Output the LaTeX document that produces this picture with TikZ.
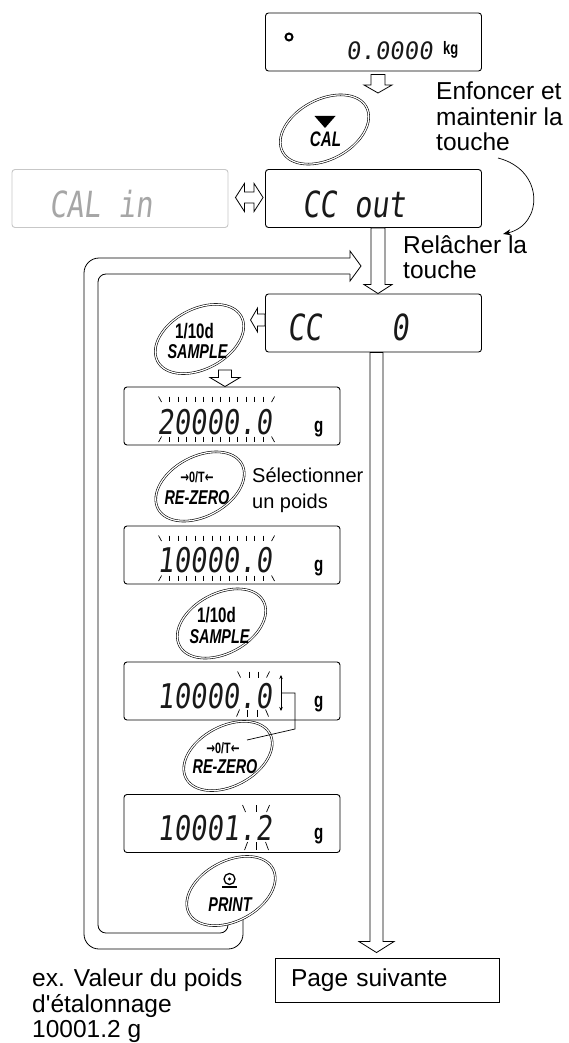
\documentclass[tikz,border=0pt]{standalone}
\usepackage{fontspec}
\setmainfont{Liberation Sans}
\newfontfamily\lcd[FakeSlant=0.12,FakeStretch=0.8]{DejaVu Sans Mono}
\newfontfamily\lcdw[FakeSlant=0.12]{DejaVu Sans Mono}
\newfontfamily\btn[FakeStretch=0.72]{Liberation Sans}
\newfontfamily\arr[FakeStretch=0.7]{DejaVu Sans}
\usetikzlibrary{shapes.geometric,calc,arrows.meta}
\newcommand\hdown[5]{\draw[hollow] let \p1=#1, \p2=#2 in
  (\x1-#3pt,\y1) -- (\x1-#3pt,\y2+#5pt) -- (\x1-#4pt,\y2+#5pt) -- (\x1,\y2) --
  (\x1+#4pt,\y2+#5pt) -- (\x1+#3pt,\y2+#5pt) -- (\x1+#3pt,\y1) -- cycle;}
\newcommand\hleft[5]{\draw[hollow] let \p1=#1, \p2=#2 in
  (\x1,\y1+#3pt) -- (\x2+#5pt,\y1+#3pt) -- (\x2+#5pt,\y1+#4pt) -- (\x2,\y1) --
  (\x2+#5pt,\y1-#4pt) -- (\x2+#5pt,\y1-#3pt) -- (\x1,\y1-#3pt) -- cycle;}
\newcommand\hboth[5]{\draw[hollow] let \p1=#1, \p2=#2 in
  (\x1,\y1) -- (\x1+#5pt,\y1+#4pt) -- (\x1+#5pt,\y1+#3pt) -- (\x2-#5pt,\y1+#3pt) --
  (\x2-#5pt,\y1+#4pt) -- (\x2,\y1) -- (\x2-#5pt,\y1-#4pt) -- (\x2-#5pt,\y1-#3pt) --
  (\x1+#5pt,\y1-#3pt) -- (\x1+#5pt,\y1-#4pt) -- cycle;}
\newcommand\blinkfull[1]{%
  \begin{scope}[shift={(#1.north west)}]
    \draw[tick] (35,10) -- (38,15.5);
    \foreach \i in {0,...,11} \draw[tick] ({46+\i*8.5},10) -- ++(0,5.5);
    \draw[tick] (151,10) -- (148,15.5);
    \draw[tick] (35,55.5) -- (38,50);
    \foreach \i in {0,...,11} \draw[tick] ({46+\i*8.5},50) -- ++(0,5.5);
    \draw[tick] (151,55.5) -- (148,50);
  \end{scope}}
\begin{document}
\begin{tikzpicture}[x=1pt,y=-1pt,
  disp/.style={draw, rounded corners=3pt, line width=0.9pt, minimum width=216pt, minimum height=58pt, inner sep=0pt},
  button/.style={ellipse, draw, double, double distance=1.2pt, line width=0.6pt, fill=white, rotate=28, minimum width=95pt, minimum height=60pt, inner sep=0pt},
  hollow/.style={draw, line width=0.8pt, fill=white, line join=miter},
  lcdtxt/.style={inner sep=0pt, text=black!90, font=\lcd\fontsize{34}{34}\selectfont},
  lcdbig/.style={inner sep=0pt, text=black!90, font=\lcd\fontsize{36}{36}\selectfont},
  unit/.style={inner sep=0pt, font=\btn\bfseries\fontsize{21}{21}\selectfont},
  bt/.style={inner sep=0pt, font=\btn\bfseries\itshape\fontsize{20}{20}\selectfont},
  bu/.style={inner sep=0pt, font=\btn\bfseries\fontsize{21}{21}\selectfont},
  bz/.style={inner sep=0pt, font=\btn\bfseries\fontsize{15}{15}\selectfont},
  note/.style={inner sep=0pt, anchor=north west, align=left, font=\fontsize{24.5}{25.5}\selectfont},
  tick/.style={line width=0.7pt},
  loopline/.style={line width=0.8pt},
]
\useasboundingbox (0,0) rectangle (568,1043);

% ---------- top display ----------
\node[disp] (top) at (373.5,42) {};
\node[draw, circle, line width=2pt, inner sep=0pt, minimum size=7pt] (dot) at (289,37) {};
\node[anchor=base east, inner sep=0pt, text=black!90, font=\lcdw\fontsize{24}{24}\selectfont] (topnum) at (433,60) {0.0000};
\node[unit, anchor=base west, font=\btn\bfseries\fontsize{18}{18}\selectfont] (kg) at (443,55) {kg};

% ---------- CAL button ----------
\node[button] (cal) at (324.5,129.5) {};
\fill ($(cal.center)+(-10,-13.5)$) -- ++(21,0) -- ++(-10.5,12) -- cycle;
\node[bt, font=\btn\bfseries\itshape\fontsize{21}{21}\selectfont] (calt) at ($(cal.center)+(1,10)$) {CAL};
\hdown{($(top.south)+(4.5,3)$)}{($(cal.center)+(53.5,-36.5)$)}{7}{14}{8}

\node[note] (t1) at (436,82) {Enfoncer et\\maintenir la\\touche};

% ---------- CC out / CAL in ----------
\node[disp] (ccout) at (373.5,198.5) {};
\node[lcdbig, anchor=base west] (ccoutt) at (302,217) {CC out};
\node[disp, draw=black!22] (calin) at (120,198.5) {};
\node[lcdbig, anchor=base west, text=black!35] (calint) at (49,217) {CAL in};
\hboth{($(calin.east)+(7,-1)$)}{($(ccout.west)+(-2,-1)$)}{5.5}{14}{9}

\coordinate (c1) at (498,158);
\coordinate (c2) at (503,234);
\draw[line width=0.7pt, -{Stealth[length=8pt,width=6pt]}] (c1) .. controls (545,170) and (543,225) .. (c2);
\node[note] (t2) at (403,235) {Relâcher la\\touche};

% ---------- CC 0 ----------
\node[disp] (cc0) at (373.5,323) {};
\node[lcdbig, anchor=base west] (cc0t) at (287,340) {CC\ \ \ \ 0};
\hdown{($(ccout.south)+(4.5,0)$)}{($(cc0.north)+(4.5,0)$)}{7}{14}{9}

% ---------- return loop ----------
\coordinate (loopend) at (361,266);
\draw[loopline, rounded corners=15pt] (243,905) -- (243,949) -- (84,949) -- (84,258) -- (350,258);
\draw[loopline] (350,258) -- (350,251) -- (loopend) -- (350,281) -- (350,274);
\draw[loopline, rounded corners=8pt] (350,274) -- (98,274) -- (98,933) -- (228,933) -- (228,905);

% ---------- next page ----------
\node[draw, line width=0.9pt, minimum width=224pt, minimum height=44pt, inner xsep=16pt, inner ysep=0pt, text width=192pt, align=left, font=\fontsize{24.5}{25.5}\selectfont] (page) at (387,980) {Page suivante};
\hdown{($(cc0.south)+(3,0)$)}{($(page.north)+(-10.5,-5)$)}{6.5}{17.5}{11}

% ---------- SAMPLE 1 ----------
\node[button] (s1) at (199.5,339) {};
\node[bu] (s1a) at ($(s1.center)+(-5,-8)$) {1/10d};
\node[bt] (s1b) at ($(s1.center)+(-2,13)$) {SAMPLE};
\hleft{($(cc0.west)+(0,-3)$)}{($(cc0.west)+(-14.5,-3)$)}{6}{12}{7}

% ---------- 20000.0 ----------
\node[disp] (d1) at (232,416) {};
\hdown{($(s1.center)+(25.5,31)$)}{($(d1.north)+(-7,0)$)}{6.5}{15}{9}
\node[lcdtxt, anchor=base east] (d1t) at (272,434) {20000.0};
\node[unit, anchor=base west] (d1u) at (314,432) {g};
\blinkfull{d1}

% ---------- RE-ZERO 1 ----------
\node[button] (r1) at (200,486.5) {};
\node[bz] (r1a) at ($(r1.center)+(-3,-9)$) {{\arr\bfseries →}0/T{\arr\bfseries ←}};
\node[bt] (r1b) at ($(r1.center)+(-3,11)$) {RE-ZERO};
\node[note, font=\fontsize{20}{25.5}\selectfont] (t3) at (252,468) {Sélectionner\\un poids};

% ---------- 10000.0 (1) ----------
\node[disp] (d2) at (232,555) {};
\node[lcdtxt, anchor=base east] (d2t) at (272,572) {10000.0};
\node[unit, anchor=base west] (d2u) at (314,571) {g};
\blinkfull{d2}

% ---------- SAMPLE 2 ----------
\node[button] (s2) at (221.5,623.5) {};
\node[bu] (s2a) at ($(s2.center)+(-5,-8)$) {1/10d};
\node[bt] (s2b) at ($(s2.center)+(-2,13)$) {SAMPLE};

% ---------- 10000.0 (2) ----------
\node[disp] (d3) at (232,691) {};
\node[lcdtxt, anchor=base east] (d3t) at (272,708) {10000.0};
\node[unit, anchor=base west] (d3u) at (314,707) {g};
\begin{scope}[shift={(d3.north west)}]
  \draw[tick] (114,10) -- (117,16);
  \draw[tick] (126,10) -- (126,16);
  \draw[tick] (135,10) -- (135,16);
  \draw[tick] (146,10) -- (143,16);
  \draw[tick] (113,55) -- (116,48);
  \draw[tick] (124,48) -- (124,55);
  \draw[tick] (134,48) -- (134,55);
  \draw[tick] (145,55) -- (142,48);
\end{scope}
\coordinate (ua) at (281,675);
\coordinate (ub) at (281,711);
\draw[tick, {Stealth[length=4pt,width=3.5pt]}-{Stealth[length=4pt,width=3.5pt]}] (ua) -- (ub);

% ---------- RE-ZERO 2 ----------
\node[button] (r2) at (228,756) {};
\node[bz] (r2a) at ($(r2.center)+(-5,-8)$) {{\arr\bfseries →}0/T{\arr\bfseries ←}};
\node[bt] (r2b) at ($(r2.center)+(-3,11)$) {RE-ZERO};
\draw[tick] ($(ua)!0.5!(ub)$) -- ++(14,0) -- ++(0,36) -- ($(r2.center)+(19,-16)$);

% ---------- 10001.2 ----------
\node[disp] (d4) at (232,823.5) {};
\node[lcdtxt, anchor=base east] (d4t) at (272,840) {10001.2};
\node[unit, anchor=base west] (d4u) at (314,839) {g};
\begin{scope}[shift={(d4.north west)}]
  \draw[tick] (119,11) -- (122,18);
  \draw[tick] (133,11) -- (133,18);
  \draw[tick] (146,11) -- (143,18);
  \draw[tick] (121,56) -- (124,48);
  \draw[tick] (133,48) -- (133,56);
  \draw[tick] (145,56) -- (142,48);
\end{scope}

% ---------- PRINT ----------
\node[button] (p) at (231,891) {};
\draw[line width=1.3pt] ($(p.center)+(-1.5,-12)$) circle[radius=5.5pt];
\fill ($(p.center)+(-1.5,-12)$) circle[radius=1.6pt];
\draw[line width=1.3pt] ($(p.center)+(-9,-4)$) -- ($(p.center)+(6,-4)$);
\node[bt] (pt) at ($(p.center)+(-1,13.5)$) {PRINT};

\node[note] (t4) at (32,969) {ex. Valeur du poids\\d\textquotesingle étalonnage\\10001.2 g};
\end{tikzpicture}
\end{document}
